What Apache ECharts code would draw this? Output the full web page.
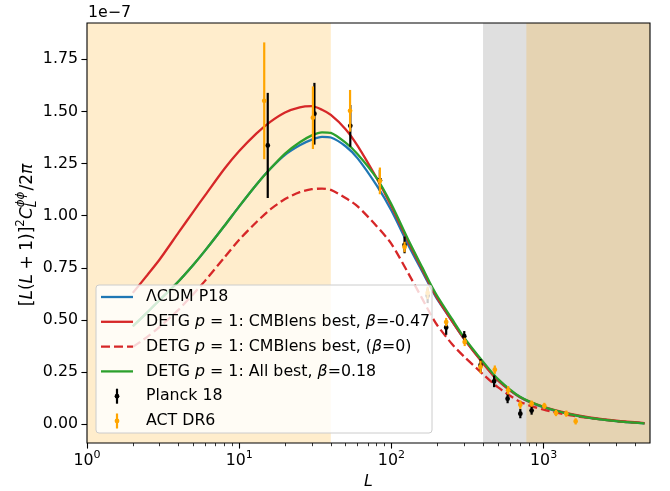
<!DOCTYPE html>
<html><head><meta charset="utf-8">
<script src="https://cdn.jsdelivr.net/npm/echarts@6/dist/echarts.min.js"></script>
<style>html,body{margin:0;padding:0;background:#fff}#c{width:670px;height:491px}</style>
</head><body><div id="c"></div>
<script>
// ---- data (values in units of 1e-7) ----
const curveL = [2, 2.5, 3, 4, 5, 6, 8, 10, 13, 16, 20, 25, 30, 35, 40, 50, 60, 80, 100, 130, 160, 180, 200, 250, 300, 400, 500, 700, 1000, 1500, 2000, 3000, 4600];
const lcdm   = [0.47,0.538,0.596,0.686,0.765,0.835,0.952,1.045,1.15,1.225,1.292,1.338,1.365,1.378,1.375,1.333,1.275,1.145,1.025,0.855,0.73,0.66,0.60,0.495,0.41,0.295,0.213,0.13,0.081,0.047,0.031,0.015,0.004];
const detgBest = [0.63,0.717,0.79,0.92,1.02,1.10,1.225,1.31,1.395,1.45,1.495,1.52,1.525,1.508,1.483,1.415,1.335,1.18,1.045,0.87,0.74,0.665,0.605,0.495,0.41,0.292,0.21,0.13,0.084,0.05,0.033,0.017,0.006];
const detgZero = [0.371,0.42,0.467,0.55,0.625,0.69,0.80,0.885,0.97,1.03,1.08,1.113,1.127,1.13,1.124,1.085,1.045,0.95,0.865,0.72,0.60,0.53,0.475,0.385,0.325,0.24,0.178,0.108,0.07,0.043,0.03,0.015,0.005];
const detgAll  = [0.47,0.538,0.596,0.686,0.765,0.835,0.952,1.045,1.15,1.225,1.298,1.352,1.385,1.40,1.397,1.35,1.295,1.18,1.055,0.88,0.75,0.675,0.615,0.505,0.417,0.30,0.218,0.132,0.083,0.048,0.031,0.015,0.004];

const planckL = [15.4, 31.2, 53.7, 84, 122, 173, 229, 301, 385, 473, 580, 703, 834];
const planckV = [1.337, 1.489, 1.431, 1.17, 0.86, 0.616, 0.464, 0.422, 0.283, 0.206, 0.123, 0.051, 0.066];
const planckE = [0.252, 0.148, 0.10, 0.05, 0.04, 0.035, 0.035, 0.025, 0.03, 0.028, 0.022, 0.022, 0.02];

const actL = [14.6, 30.5, 53.5, 84, 122, 173, 229, 303, 385, 478, 585, 703, 834, 1011, 1206, 1410, 1624];
const actV = [1.551, 1.47, 1.503, 1.167, 0.85, 0.63, 0.49, 0.395, 0.275, 0.262, 0.163, 0.094, 0.099, 0.088, 0.054, 0.051, 0.014];
const actE = [0.28, 0.15, 0.10, 0.064, 0.025, 0.03, 0.02, 0.02, 0.03, 0.02, 0.02, 0.02, 0.015, 0.015, 0.015, 0.015, 0.015];

const xMajorTicks = [1, 10, 100, 1000];
const xMinorTicks = [2,3,4,5,6,7,8,9,20,30,40,50,60,70,80,90,200,300,400,500,600,700,800,900,2000,3000,4000];
const yTicks = [0, 0.25, 0.5, 0.75, 1.0, 1.25, 1.5, 1.75];
const xRange = [1, 5000];
const yRange = [-0.0897, 1.924];
const grayBand = [400, 5000];
const orangeBands = [[1, 40], [770, 5000]];

const legendLabels = ['ΛCDM P18',
  'DETG {i|p} = 1: CMBlens best, {i|β}=-0.47',
  'DETG {i|p} = 1: CMBlens best, ({i|β}=0)',
  'DETG {i|p} = 1: All best, {i|β}=0.18',
  'Planck 18', 'ACT DR6'];

// ---- chart ----
const FONT = 'DejaVu Sans';
const FS = 15.8;
const BLUE = '#1f77b4', RED = '#d62728', GREEN = '#2ca02c', ORANGE = '#ffa500';
const chart = echarts.init(document.getElementById('c'), null, {renderer: 'canvas'});

function pairs(L, V) { return L.map((l, i) => [l, V[i]]); }
function lineSeries(name, V, color, dashed, z) {
  return {type: 'line', name, data: pairs(curveL, V), showSymbol: false, smooth: 0.25, z,
    lineStyle: {color, width: 2.3, type: dashed ? [9, 4] : 'solid', cap: 'butt'}, silent: true};
}
function errSeries(name, L, V, E, color, z) {
  return {type: 'custom', name, z, silent: true,
    data: L.map((l, i) => [l, V[i], E[i]]),
    encode: {x: 0, y: 1},
    renderItem: (params, api) => {
      const x = api.value(0), y = api.value(1), e = api.value(2);
      const p = api.coord([x, y]), lo = api.coord([x, y - e]), hi = api.coord([x, y + e]);
      return {type: 'group', children: [
        {type: 'line', shape: {x1: p[0], y1: lo[1], x2: p[0], y2: hi[1]}, style: {stroke: color, lineWidth: 2.2}},
        {type: 'circle', shape: {cx: p[0], cy: p[1], r: 2.4}, style: {fill: color}}
      ]};
    }
  };
}

const shadeData = [[{xAxis: grayBand[0], itemStyle: {color: 'rgba(128,128,128,0.25)'}}, {xAxis: grayBand[1]}]]
  .concat(orangeBands.map(b => [{xAxis: b[0], itemStyle: {color: 'rgba(255,165,0,0.2)'}}, {xAxis: b[1]}]));

// y-label built from pieces (mathtext-like)
function yLabelGraphic() {
  const ctx = document.createElement('canvas').getContext('2d');
  const LF = 17;
  const small = LF * 0.7;
  const pieces = [
    {t: '[', it: 0}, {t: 'L', it: 1}, {t: '(', it: 0}, {t: 'L', it: 1}, {t: '+', it: 0, gap: 4.5}, {t: '1)]', it: 0},
    {t: '2', it: 0, pos: 'sup'}, {t: 'C', it: 1},
    {t: 'L', it: 1, pos: 'sub', stack: true}, {t: 'ϕϕ', it: 1, pos: 'sup'},
    {t: '/2', it: 0}, {t: 'π', it: 1}
  ];
  let x = 0, stackStart = null, stackW = 0;
  const els = [];
  pieces.forEach(p => {
    const size = p.pos ? small : LF;
    ctx.font = (p.it ? 'italic ' : '') + size + 'px "' + FONT + '"';
    const w = ctx.measureText(p.t).width;
    if (p.gap) x += p.gap;
    let px = x;
    if (p.stack) { stackStart = x; stackW = w; }
    else if (stackStart !== null) { px = stackStart; }
    const dy = p.pos === 'sup' ? -0.42 * LF : (p.pos === 'sub' ? 0.28 * LF : 0);
    els.push({type: 'text', x: px, y: dy, style: {text: p.t, fontSize: size, fontFamily: FONT,
      fontStyle: p.it ? 'italic' : 'normal', fill: '#000', verticalAlign: 'middle', align: 'left'}});
    if (p.stack) { /* wait for sup */ }
    else if (stackStart !== null) { x = stackStart + Math.max(stackW, w) + 1; stackStart = null; }
    else { x += w + (p.gap || 0); }
  });
  const W = x;
  return {type: 'group', x: 28, y: 235 + W / 2, rotation: Math.PI / 2, children: els, silent: true};
}

function legendGraphic() {
  const x0 = 96, y0 = 285, w = 336, h = 148;
  const rowY = i => 297 + i * 24.8;
  const els = [{type: 'rect', shape: {x: x0, y: y0, width: w, height: h, r: 3},
    style: {fill: 'rgba(255,255,255,0.8)', stroke: '#cccccc', lineWidth: 1}, z: 50}];
  const lines = [[BLUE, 0], [RED, 0], [RED, 1], [GREEN, 0]];
  lines.forEach((l, i) => els.push({type: 'line', z: 51, shape: {x1: 101, y1: rowY(i), x2: 133, y2: rowY(i)},
    style: {stroke: l[0], lineWidth: 2.3, lineDash: l[1] ? [9, 4] : null}}));
  [['#000', 4], [ORANGE, 5]].forEach(e => {
    els.push({type: 'line', z: 51, shape: {x1: 117, y1: rowY(e[1]) - 7.5, x2: 117, y2: rowY(e[1]) + 7.5},
      style: {stroke: e[0], lineWidth: 2.2}});
    els.push({type: 'circle', z: 51, shape: {cx: 117, cy: rowY(e[1]), r: 2.4}, style: {fill: e[0]}});
  });
  legendLabels.forEach((t, i) => els.push({type: 'text', z: 51, x: 146, y: rowY(i),
    style: {text: t, fontSize: FS, fontFamily: FONT, fill: '#000', verticalAlign: 'middle',
      rich: {i: {fontStyle: 'italic', fontSize: FS, fontFamily: FONT, fill: '#000'}}}}));
  return els;
}

const axisCommon = {splitLine: {show: false}, axisLine: {show: false, onZero: false}};
const option = {
  animation: false,
  backgroundColor: '#fff',
  grid: {left: 87, right: 20, top: 23, bottom: 48, containLabel: false, outerBoundsMode: 'none'},
  xAxis: [
    Object.assign({type: 'log', logBase: 10, min: xRange[0], max: xRange[1],
      axisTick: {show: true, length: 5.6, customValues: xMajorTicks, lineStyle: {color: '#000', width: 1.1}},
      axisLabel: {customValues: xMajorTicks, color: '#000', margin: 7,
        formatter: v => '{b|10}{s|' + Math.round(Math.log10(v)) + '}',
        rich: {b: {fontSize: FS, fontFamily: FONT, color: '#000', verticalAlign: 'bottom'},
               s: {fontSize: FS * 0.7, fontFamily: FONT, color: '#000', verticalAlign: 'bottom', padding: [0, 0, 8, 0]}}},
      name: 'L', nameLocation: 'middle', nameGap: 30,
      nameTextStyle: {fontSize: FS, fontFamily: FONT, fontStyle: 'italic', color: '#000'}}, axisCommon),
    Object.assign({type: 'log', logBase: 10, min: xRange[0], max: xRange[1], position: 'bottom',
      axisTick: {show: true, length: 3.2, customValues: xMinorTicks, lineStyle: {color: '#000', width: 0.8}},
      axisLabel: {show: false}}, axisCommon)
  ],
  yAxis: Object.assign({type: 'value', min: yRange[0], max: yRange[1],
    axisTick: {show: true, length: 5.6, customValues: yTicks, lineStyle: {color: '#000', width: 1.1}},
    axisLabel: {customValues: yTicks, color: '#000', fontSize: FS, fontFamily: FONT, margin: 9,
      formatter: v => v.toFixed(2)}}, axisCommon),
  series: [
    {type: 'line', data: [[2, 0.47]], showSymbol: false, lineStyle: {opacity: 0}, silent: true, z: 0,
      markArea: {silent: true, data: shadeData}},
    lineSeries('ΛCDM P18', lcdm, BLUE, false, 2),
    lineSeries('CMBlens best', detgBest, RED, false, 3),
    lineSeries('CMBlens best beta0', detgZero, RED, true, 4),
    lineSeries('All best', detgAll, GREEN, false, 5),
    errSeries('Planck 18', planckL, planckV, planckE, '#000', 6),
    errSeries('ACT DR6', actL, actV, actE, ORANGE, 7)
  ],
  graphic: [
    {type: 'rect', shape: {x: 87, y: 23, width: 563, height: 420}, style: {fill: 'none', stroke: '#000', lineWidth: 1.1}, z: 40, silent: true},
    {type: 'text', x: 88, y: 13, style: {text: '1e\u22127', fontSize: FS, fontFamily: FONT, fill: '#000', verticalAlign: 'middle'}, silent: true},
    yLabelGraphic()
  ].concat(legendGraphic())
};
chart.setOption(option);
</script></body></html>
